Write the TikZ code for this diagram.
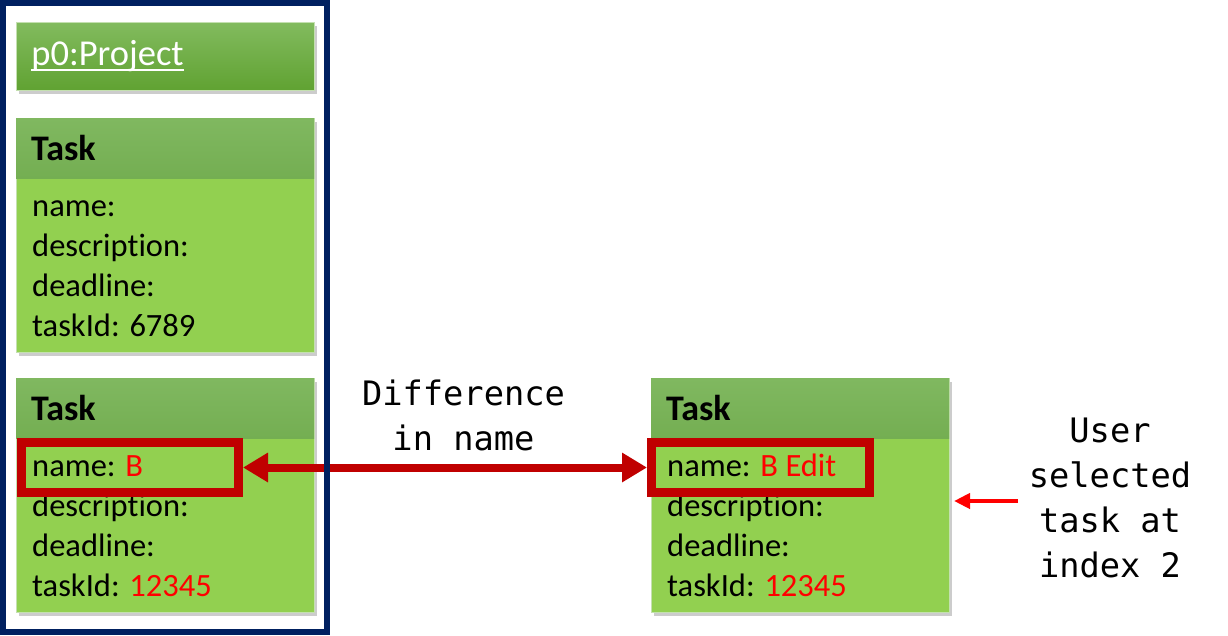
\documentclass[tikz,border=0pt]{standalone}
\usepackage{fontspec}
\setmainfont{Carlito}[Ligatures=NoCommon]
\setmonofont{DejaVu Sans Mono}
\usetikzlibrary{arrows.meta, shadows}
\definecolor{framenavy}{RGB}{0, 32, 96}
\definecolor{bodygreen}{RGB}{146, 208, 80}
\definecolor{headtop}{RGB}{128, 184, 96}
\definecolor{headbottom}{RGB}{116, 174, 82}
\definecolor{projtop}{RGB}{130, 187, 94}
\definecolor{projbottom}{RGB}{96, 162, 50}
\definecolor{edgegreen}{RGB}{196, 224, 176}
\definecolor{markred}{RGB}{192, 0, 0}
\definecolor{valred}{RGB}{255, 0, 0}

% underline that runs just below the baseline
\newcommand\projul[1]{\setbox0\hbox{#1}\rlap{\rule[-5.5pt]{\wd0}{2pt}}\box0}

\tikzset{
    boxshadow/.style={drop shadow={opacity=0.4, shadow xshift=3pt, shadow yshift=-4pt}},
    taskbox/.style={rectangle, fill=bodygreen, draw=edgegreen, line width=0.8pt,
        inner sep=0pt, anchor=north west, minimum width=298pt, minimum height=234pt,
        boxshadow},
    taskhead/.style={rectangle, top color=headtop, bottom color=headbottom,
        inner xsep=15pt, inner ysep=0pt, anchor=north west, minimum height=60pt,
        text width=268pt, align=left, font=\fontsize{36}{40}\selectfont\bfseries},
    projbox/.style={rectangle, top color=projtop, bottom color=projbottom,
        draw=edgegreen, line width=0.8pt, text=white, boxshadow,
        inner xsep=15pt, inner ysep=0pt, anchor=north west, minimum height=68pt,
        text width=268pt, align=left, font=\fontsize{36.5}{40}\selectfont},
    attr/.style={anchor=base west, inner sep=0pt, font=\fontsize{32.5}{40}\selectfont},
    hilite/.style={rectangle, draw=markred, line width=9pt, inner sep=0pt,
        minimum width=217pt, minimum height=50pt},
    note/.style={inner sep=0pt, align=center, font=\ttfamily\fontsize{33.7}{45}\selectfont},
    groupframe/.style={rectangle, draw=framenavy, line width=6pt, inner sep=0pt,
        minimum width=324pt, minimum height=629pt},
    diffarrow/.style={draw=markred, line width=8pt,
        {Triangle[length=25pt, width=28pt]}-{Triangle[length=25pt, width=28pt]}},
    selarrow/.style={draw=valred, line width=4pt, -{Triangle[length=16pt, width=15pt]}}
}

\begin{document}
\begin{tikzpicture}[x=1pt, y=-1pt]
    \useasboundingbox (0,0) rectangle (1228,635);

    % project and its tasks
    \node[projbox] (proj) at (16,22) {\projul{p0:Project}};

    \node[taskbox] (ta) at (16,118) {};
    \node[taskhead] (ta-head) at (ta.north west) {Task};
    \foreach \txt [count=\i] in {name:, description:, deadline:, taskId: 6789}
        \node[attr] (ta-\i) at ([xshift=16pt, yshift={-98pt-(\i-1)*40.2pt}]ta.north west) {\txt};

    \node[taskbox] (tb) at (16,378) {};
    \node[taskhead] (tb-head) at (tb.north west) {Task};
    \foreach \txt [count=\i] in {name: \textcolor{valred}{B}, description:, deadline:,
        taskId: \textcolor{valred}{12345}}
        \node[attr] (tb-\i) at ([xshift=16pt, yshift={-98pt-(\i-1)*40.2pt}]tb.north west) {\txt};

    % selected task
    \node[taskbox] (tc) at (651,378) {};
    \node[taskhead] (tc-head) at (tc.north west) {Task};
    \foreach \txt [count=\i] in {name: \textcolor{valred}{B Edit}, description:, deadline:,
        taskId: \textcolor{valred}{12345}}
        \node[attr] (tc-\i) at ([xshift=16pt, yshift={-98pt-(\i-1)*40.2pt}]tc.north west) {\txt};

    % highlighted names
    \node[hilite] (hl-left) at (130,467.5) {};
    \node[hilite, minimum width=218pt] (hl-right) at (760.5,467.5) {};
    \draw[diffarrow] (hl-left.east) -- (hl-right.west);
    \node[note] (diff) at (463.5,415) {Difference\\in name};

    \node[note] (user) at (1110,498) {User\\selected\\task at\\index 2};
    \coordinate (sel-from) at (1018,501);
    \coordinate (sel-to) at (954,501);
    \draw[selarrow] (sel-from) -- (sel-to);

    \node[groupframe] (group) at (165,317.5) {};
\end{tikzpicture}
\end{document}
